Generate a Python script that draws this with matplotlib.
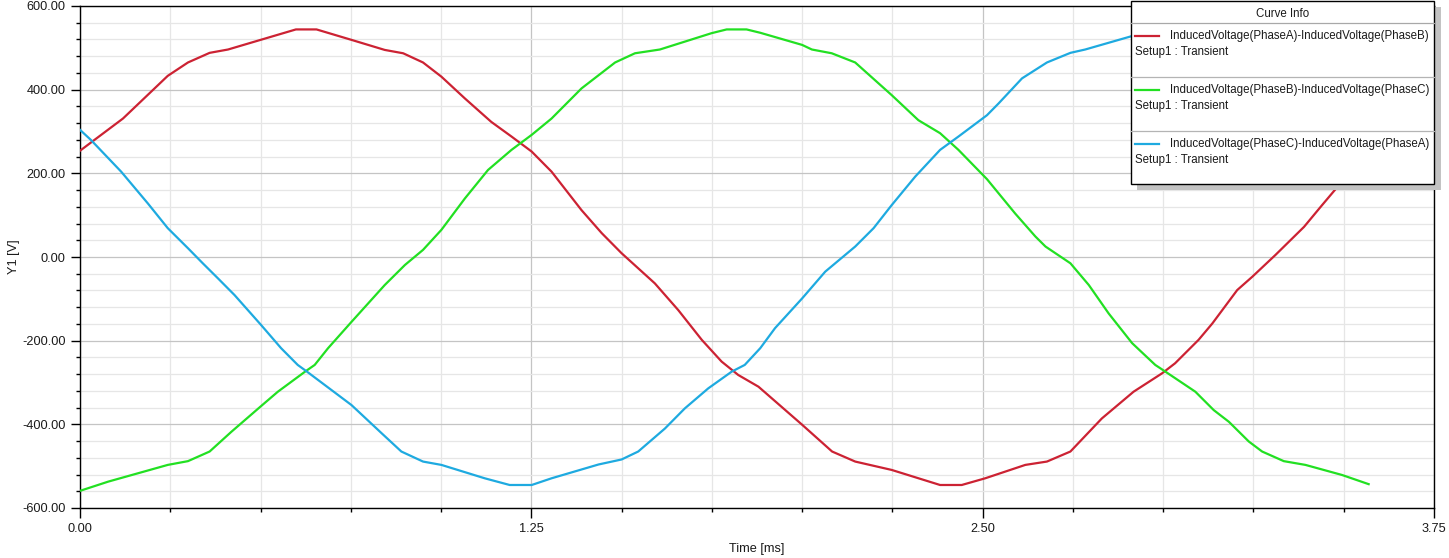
import matplotlib
matplotlib.use('Agg')
import matplotlib.pyplot as plt
from matplotlib.ticker import MultipleLocator, FormatStrFormatter
from matplotlib.patches import Rectangle

plt.rcParams['font.family'] = ['Liberation Sans', 'DejaVu Sans']

# ---------------- data ----------------
time_red = [0.0, 0.119, 0.243, 0.299, 0.359, 0.41, 0.50, 0.598, 0.655, 0.752, 0.844,
            0.895, 0.95, 1.001, 1.066, 1.139, 1.195, 1.251, 1.306, 1.389, 1.445, 1.50,
            1.592, 1.657, 1.722, 1.777, 1.823, 1.879, 2.0, 2.083, 2.147, 2.248, 2.382,
            2.442, 2.507, 2.618, 2.678, 2.743, 2.83, 2.918, 2.997, 3.033, 3.098, 3.136,
            3.205, 3.247, 3.311, 3.39, 3.44, 3.487, 3.53, 3.569]
red = [254, 331, 433, 465, 488, 496, 519, 544, 544, 519, 495,
       487, 465, 431, 379, 323, 288, 252, 204, 112, 57, 9,
       -63, -127, -198, -250, -282, -310, -401, -465, -489, -509, -545,
       -545, -529, -497, -489, -465, -386, -322, -278, -254, -198, -159,
       -79, -47, 5, 72, 124, 172, 215, 252]

time_green = [0.0, 0.078, 0.243, 0.299, 0.359, 0.419, 0.502, 0.548, 0.625, 0.65, 0.687,
              0.752, 0.844, 0.9, 0.95, 1.001, 1.066, 1.13, 1.195, 1.251, 1.306, 1.389,
              1.482, 1.537, 1.606, 1.749, 1.791, 1.846, 1.884, 2.0, 2.027, 2.082, 2.147,
              2.248, 2.322, 2.382, 2.433, 2.512, 2.59, 2.646, 2.674, 2.743, 2.794, 2.849,
              2.914, 2.978, 3.006, 3.089, 3.14, 3.182, 3.237, 3.274, 3.334, 3.394, 3.495,
              3.569]
green = [-559, -537, -497, -488, -465, -418, -356, -322, -273, -258, -218,
         -155, -67, -19, 17, 65, 140, 208, 256, 292, 331, 403,
         465, 487, 496, 535, 544, 544, 536, 507, 496, 487, 465,
         387, 327, 296, 256, 186, 104, 49, 25, -15, -67, -135,
         -206, -258, -274, -322, -366, -394, -441, -465, -488, -497, -521,
         -543]

time_blue = [0.0, 0.03, 0.114, 0.188, 0.243, 0.299, 0.34, 0.382, 0.428, 0.502, 0.557,
             0.603, 0.627, 0.715, 0.752, 0.835, 0.89, 0.95, 1.001, 1.121, 1.19, 1.251,
             1.306, 1.436, 1.50, 1.546, 1.62, 1.675, 1.74, 1.805, 1.841, 1.884, 1.925,
             2.0, 2.064, 2.147, 2.198, 2.248, 2.313, 2.382, 2.433, 2.512, 2.544, 2.609,
             2.678, 2.743, 2.784, 2.909, 2.97, 3.03, 3.08, 3.2, 3.25, 3.3, 3.36, 3.46,
             3.54, 3.569]
blue = [304, 280, 204, 128, 69, 21, -15, -51, -91, -163, -218,
        -258, -273, -330, -354, -421, -465, -489, -497, -529, -545, -545,
        -529, -496, -484, -465, -410, -362, -314, -274, -258, -218, -170,
        -99, -35, 25, 69, 124, 192, 256, 288, 339, 367, 427,
        465, 488, 496, 527, 544, 544, 535, 507, 496, 487, 465, 387,
        327, 304]

series_names = ['InducedVoltage(PhaseA)-InducedVoltage(PhaseB)',
                'InducedVoltage(PhaseB)-InducedVoltage(PhaseC)',
                'InducedVoltage(PhaseC)-InducedVoltage(PhaseA)']
series_sub = ['Setup1 : Transient'] * 3
series_colors = ['#CC2233', '#22E022', '#1EAAE0']

x_label = 'Time [ms]'
y_label = 'Y1 [V]'
legend_title = 'Curve Info'

# ---------------- figure ----------------
W, H = 1449, 558
fig = plt.figure(figsize=(W / 100, H / 100), dpi=100)
L, R, T, B = 80, 1434, 6, 508
ax = fig.add_axes([L / W, 1 - B / H, (R - L) / W, (B - T) / H])

for tx, vy, c in zip([time_red, time_green, time_blue], [red, green, blue], series_colors):
    ax.plot(tx, vy, color=c, lw=1.6, zorder=3)

ax.set_xlim(0, 3.75)
ax.set_ylim(-600, 600)
ax.xaxis.set_major_locator(MultipleLocator(1.25))
ax.xaxis.set_minor_locator(MultipleLocator(0.25))
ax.yaxis.set_major_locator(MultipleLocator(200))
ax.yaxis.set_minor_locator(MultipleLocator(40))
ax.xaxis.set_major_formatter(FormatStrFormatter('%.2f'))
ax.yaxis.set_major_formatter(FormatStrFormatter('%.2f'))

ax.tick_params(which='both', direction='out', width=1, colors='black',
               labelsize=9.2, labelcolor='#1a1a1a')
ax.tick_params(axis='y', which='major', length=6.5, pad=4)
ax.tick_params(axis='x', which='major', length=7.5, pad=3)
ax.tick_params(which='minor', length=3)

ax.set_axisbelow(True)
ax.grid(which='major', color='#C4C4C4', lw=0.9)
ax.grid(which='minor', color='#E6E6E6', lw=0.9)
for s in ax.spines.values():
    s.set_color('black')
    s.set_linewidth(1.0)

ax.set_xlabel(x_label, fontsize=9.2, va='center', color='#1a1a1a')
ax.xaxis.set_label_coords(0.5, -(549 - B) / (B - T))
ax.set_ylabel(y_label, fontsize=9.2, va='center', color='#1a1a1a')
ax.yaxis.set_label_coords(-(L - 13.5) / (R - L), 0.5)

# ---------------- "Curve Info" box (pixel-coordinate overlay) ----------------
ov = fig.add_axes([0, 0, 1, 1], zorder=10)
ov.set_xlim(0, W)
ov.set_ylim(H, 0)
ov.axis('off')

bx0, by0, bx1, by1 = 1130.5, 0.5, 1434, 184
ov.add_patch(Rectangle((bx0 + 6.5, by0 + 6), bx1 - bx0, by1 - by0,
                       facecolor='#C3C3C3', edgecolor='none'))
ov.add_patch(Rectangle((bx0, by0), bx1 - bx0, by1 - by0,
                       facecolor='white', edgecolor='black', lw=1.0))
ov.text((bx0 + bx1) / 2, 14, legend_title, fontsize=8.3, ha='center', va='center',
        color='#1a1a1a')
ov.plot([bx0, bx1], [22.5, 22.5], color='#A8A8A8', lw=0.9)
for i, (name, sub, c) in enumerate(zip(series_names, series_sub, series_colors)):
    y0 = 36 + 54 * i
    ov.plot([1135, 1159], [y0, y0], color=c, lw=1.6)
    ov.text(1170, y0, name, fontsize=8.3, ha='left', va='center', color='#1a1a1a')
    ov.text(1135, y0 + 16, sub, fontsize=8.3, ha='left', va='center', color='#1a1a1a')
    if i < 2:
        ov.plot([bx0, bx1], [y0 + 40.5, y0 + 40.5], color='#B4B4B4', lw=0.9)

fig.savefig('out.png', dpi=100)
